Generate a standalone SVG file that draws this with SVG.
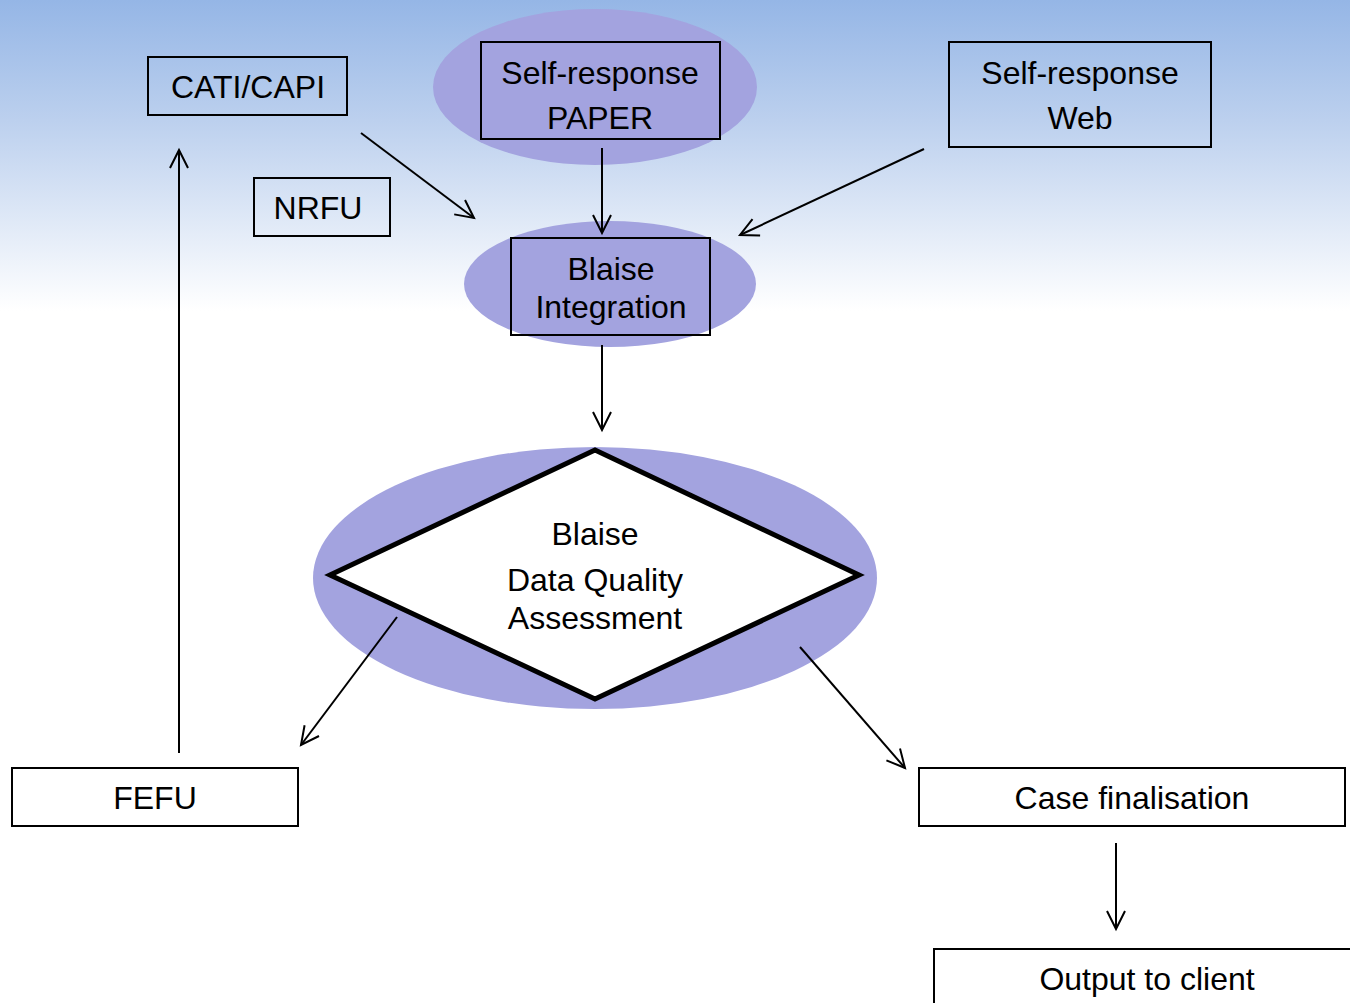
<svg xmlns="http://www.w3.org/2000/svg" width="1350" height="1003" viewBox="0 0 1350 1003">
<defs>
<linearGradient id="bg" x1="0" y1="0" x2="0" y2="1003" gradientUnits="userSpaceOnUse">
<stop offset="0" stop-color="#95B6E6"/>
<stop offset="0.12" stop-color="#BCD0EE"/>
<stop offset="0.31" stop-color="#FFFFFF"/>
</linearGradient>
<marker id="arr" markerUnits="userSpaceOnUse" markerWidth="24" markerHeight="24" viewBox="0 0 24 24" refX="21" refY="12" orient="auto">
<path d="M3,3 L21,12 L3,21" fill="none" stroke="#000" stroke-width="2"/>
</marker>
<style>
.box{fill:none;stroke:#000;stroke-width:2}
.bw{fill:#fff;stroke:#000;stroke-width:2}
.ell{fill:#A3A3DF}
.t{font-family:"Liberation Sans",Arial,sans-serif;font-size:32px;fill:#000;text-anchor:middle}
.c{fill:none;stroke:#000;stroke-width:2;marker-end:url(#arr)}
</style>
</defs>
<rect x="0" y="0" width="1350" height="1003" fill="url(#bg)"/>
<g id="paper">
<ellipse class="ell" cx="595" cy="87" rx="162" ry="78"/>
<rect class="box" x="481" y="42" width="239" height="97"/>
<text class="t" x="600" y="84">Self-response</text>
<text class="t" x="600" y="129">PAPER</text>
</g>
<g id="catiCapi">
<rect class="box" x="148" y="57" width="199" height="58"/>
<text class="t" x="248" y="98">CATI/CAPI</text>
</g>
<g id="web">
<rect class="box" x="949" y="42" width="262" height="105"/>
<text class="t" x="1080" y="84">Self-response</text>
<text class="t" x="1080" y="129">Web</text>
</g>
<g id="nrfu">
<rect class="box" x="254" y="178" width="136" height="58"/>
<text class="t" x="318" y="219">NRFU</text>
</g>
<g id="integration">
<ellipse class="ell" cx="610" cy="284" rx="146" ry="63"/>
<rect class="box" x="511" y="238" width="199" height="97"/>
<text class="t" x="611" y="280">Blaise</text>
<text class="t" x="611" y="318">Integration</text>
</g>
<g id="dqa">
<ellipse class="ell" cx="595" cy="578" rx="282" ry="131"/>
<polygon points="595,450 859,575 595,699 330,575" fill="#fff" stroke="#000" stroke-width="5" stroke-linejoin="miter"/>
<text class="t" x="595" y="545">Blaise</text>
<text class="t" x="595" y="591">Data Quality</text>
<text class="t" x="595" y="629">Assessment</text>
</g>
<g id="fefu">
<rect class="bw" x="12" y="768" width="286" height="58"/>
<text class="t" x="155" y="809">FEFU</text>
</g>
<g id="caseFinal">
<rect class="bw" x="919" y="768" width="426" height="58"/>
<text class="t" x="1132" y="809">Case finalisation</text>
</g>
<g id="output">
<rect class="bw" x="934" y="949" width="420" height="60"/>
<text class="t" x="1147" y="990">Output to client</text>
</g>
<g id="connectors">
<line class="c" x1="361" y1="133" x2="474" y2="218"/>
<line class="c" x1="602" y1="148" x2="602" y2="233"/>
<line class="c" x1="924" y1="149" x2="740" y2="235"/>
<line class="c" x1="602" y1="345" x2="602" y2="430"/>
<line class="c" x1="397" y1="617" x2="301" y2="745"/>
<line class="c" x1="800" y1="647" x2="905" y2="768"/>
<line class="c" x1="179" y1="753" x2="179" y2="150"/>
<line class="c" x1="1116" y1="843" x2="1116" y2="929"/>
</g>
</svg>
